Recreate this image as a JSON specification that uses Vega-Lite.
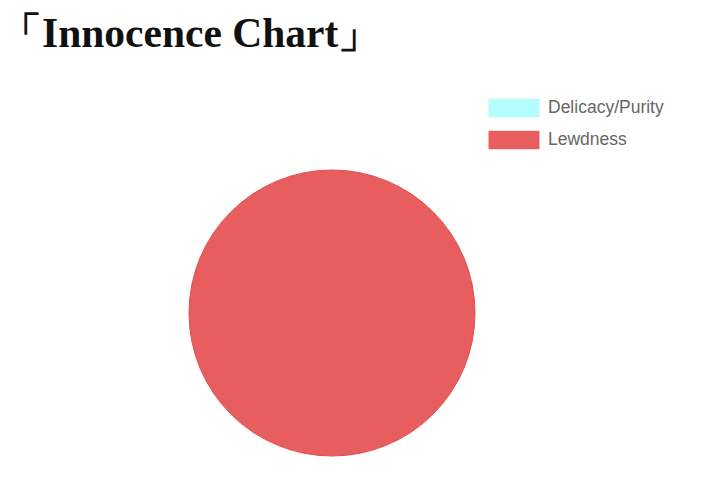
{
  "$schema": "https://vega.github.io/schema/vega-lite/v6.json",
  "width": 644,
  "height": 286,
  "autosize": "none",
  "padding": {"left": 10, "top": 170, "right": 58, "bottom": 38},
  "background": "white",
  "title": {
    "text": "「Innocence Chart」",
    "anchor": "start",
    "frame": "group",
    "font": "Liberation Serif",
    "fontSize": 41.5,
    "fontWeight": "bold",
    "color": "#111111",
    "baseline": "alphabetic",
    "offset": 7,
    "dx": -10
  },
  "data": {
    "values": [
      {"label": "Delicacy/Purity", "value": 0},
      {"label": "Lewdness", "value": 100}
    ]
  },
  "mark": {"type": "arc", "stroke": "#e04e52", "strokeWidth": 1},
  "encoding": {
    "theta": {"field": "value", "type": "quantitative", "stack": true},
    "order": {"field": "label", "sort": "ascending"},
    "color": {
      "field": "label",
      "type": "nominal",
      "sort": ["Delicacy/Purity", "Lewdness"],
      "scale": {"domain": ["Delicacy/Purity", "Lewdness"], "range": ["#b3fdfd", "#e85e5e"]},
      "legend": {
        "title": null,
        "orient": "none",
        "legendX": 491,
        "legendY": -75,
        "symbolType": "M-2,-0.72H2V0.72H-2Z",
        "symbolSize": 650,
        "symbolStrokeWidth": 0,
        "labelFont": "Liberation Sans",
        "labelFontSize": 17.5,
        "labelColor": "#666666",
        "labelOffset": 21,
        "rowPadding": 9
      }
    }
  },
  "config": {"view": {"stroke": null}}
}
